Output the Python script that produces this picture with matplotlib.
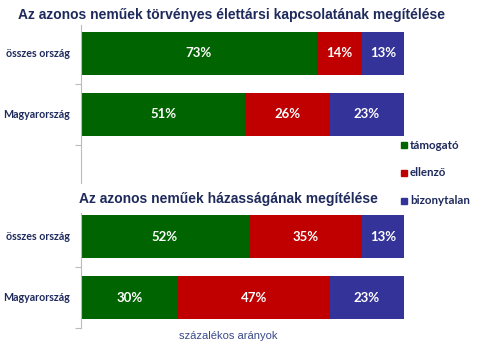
import matplotlib
matplotlib.use("Agg")
import matplotlib.pyplot as plt
from matplotlib.patches import Rectangle

W, H = 480, 343
categories = ["összes ország", "Magyarország"]
series_names = ["támogató", "ellenző", "bizonytalan"]
top_title = "Az azonos neműek törvényes élettársi kapcsolatának megítélése"
bottom_title = "Az azonos neműek házasságának megítélése"
top_values = {"támogató": [73, 51], "ellenző": [14, 26], "bizonytalan": [13, 23]}
bottom_values = {"támogató": [52, 30], "ellenző": [35, 47], "bizonytalan": [13, 23]}
xlabel = "százalékos arányok"

colors = {"támogató": "#006400", "ellenző": "#C00000", "bizonytalan": "#333399"}
navy = "#1F2A5C"

fig = plt.figure(figsize=(W / 100, H / 100), dpi=100)
fig.patch.set_facecolor("white")


def px_axes(x0, y0, x1, y1):
    return fig.add_axes([x0 / W, 1 - y1 / H, (x1 - x0) / W, (y1 - y0) / H])


def draw(ax, values, ylim):
    left = [0, 0]
    for name in series_names:
        vals = values[name]
        ax.barh(range(len(categories)), vals, left=left, height=0.705,
                color=colors[name], edgecolor="none")
        for i, v in enumerate(vals):
            ax.text(left[i] + v / 2, i, f"{v}%", ha="center", va="center",
                    color="white", fontsize=9.5, fontweight="bold", family="Lato")
        left = [l + v for l, v in zip(left, vals)]
    ax.set_xlim(0, 100)
    ax.set_ylim(*ylim)
    for s in ["top", "right", "bottom"]:
        ax.spines[s].set_visible(False)
    ax.spines["left"].set_color("#BBBBBB")
    ax.set_xticks([])
    ax.set_yticks([0.5, 1.5])
    ax.set_yticklabels([])
    ax.tick_params(axis="y", length=4, color="#BBBBBB")
    for i, c in enumerate(categories):
        ax.text(-0.033, i, c, transform=ax.get_yaxis_transform(), ha="right",
                va="center", fontsize=7.7, fontweight="bold", color=navy, family="Lato")
    ax.set_facecolor("none")


ax1 = px_axes(81, 25, 404, 183)
draw(ax1, top_values, (2.126, -0.464))
ax2 = px_axes(81, 213, 404, 328)
draw(ax2, bottom_values, (1.49, -0.393))

fig.text(231 / W, 1 - 15 / H, top_title, ha="center", va="center",
         fontsize=10.0, fontweight="bold", color=navy, family="Liberation Sans")
fig.text(228 / W, 1 - 199 / H, bottom_title, ha="center", va="center",
         fontsize=10.0, fontweight="bold", color=navy, family="Liberation Sans")
fig.text(228 / W, 1 - 336 / H, xlabel, ha="center", va="center",
         fontsize=8, color="#3A4A8A", family="Liberation Sans")

leg_y = [145, 173, 201]
for name, y in zip(series_names, leg_y):
    fig.patches.append(Rectangle((401 / W, 1 - (y + 3) / H), 6 / W, 6 / H,
                                 transform=fig.transFigure, color=colors[name]))
    fig.text(410 / W, 1 - y / H, name, ha="left", va="center", fontsize=8.3,
             fontweight="bold", color=navy, family="Lato")

fig.savefig("out.png", dpi=100)
